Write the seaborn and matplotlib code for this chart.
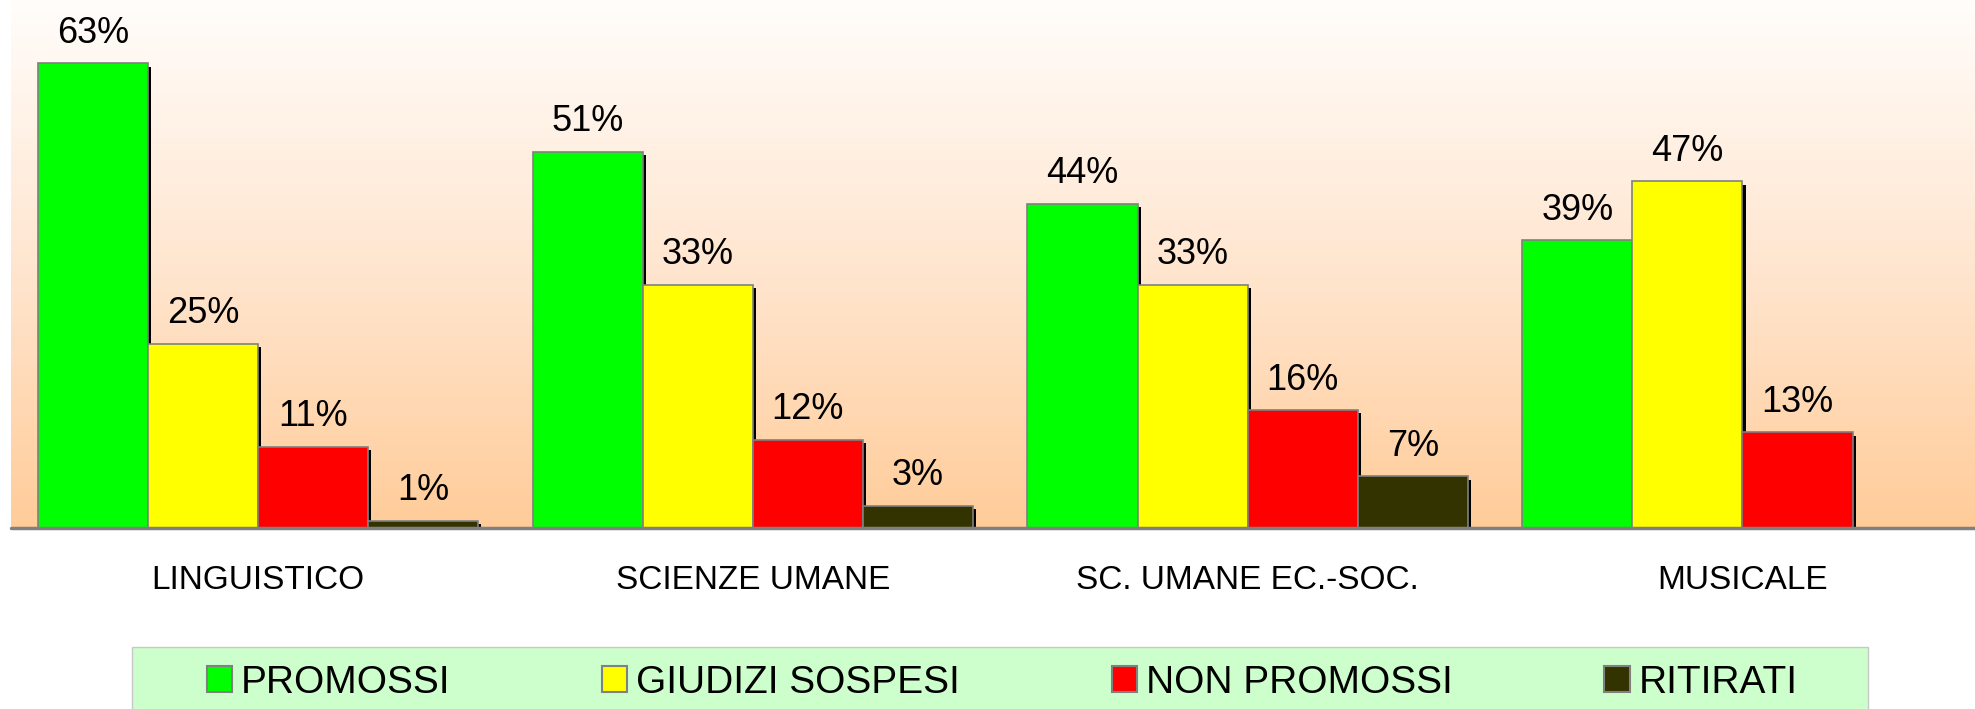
import numpy as np
import pandas as pd
import matplotlib
matplotlib.use("Agg")
import matplotlib.pyplot as plt
import matplotlib.patheffects as pe
from matplotlib.colors import LinearSegmentedColormap
from matplotlib.patches import Patch, Rectangle
import seaborn as sns

# dati
indirizzi = ['LINGUISTICO', 'SCIENZE UMANE', 'SC. UMANE EC.-SOC.', 'MUSICALE']
esiti = ['PROMOSSI', 'GIUDIZI SOSPESI', 'NON PROMOSSI', 'RITIRATI']
promossi = [63, 51, 44, 39]
giudizi_sospesi = [25, 33, 33, 47]
non_promossi = [11, 12, 16, 13]
ritirati = [1, 3, 7, np.nan]
colori = ['#00FF00', '#FFFF00', '#FF0000', '#333300']


def grafico_esiti(save_path='out.png'):
    sns.set_style('white')
    plt.rcParams['font.family'] = ['Liberation Sans', 'DejaVu Sans']
    plt.rcParams['text.color'] = 'black'
    plt.rcParams['xtick.color'] = 'black'

    df = pd.DataFrame({'indirizzo': indirizzi * 4,
                       'esito': np.repeat(esiti, len(indirizzi)),
                       'valore': promossi + giudizi_sospesi + non_promossi + ritirati})

    fig = plt.figure(figsize=(19.75, 7.09), dpi=100)
    ax = fig.add_axes([0.0054, 0.2553, 0.9946, 0.7447])

    ombra = [pe.withSimplePatchShadow(offset=(2.2, -2.5), shadow_rgbFace='black', alpha=1)]
    sns.barplot(data=df, x='indirizzo', y='valore', hue='esito', order=indirizzi,
                hue_order=esiti, palette=colori, saturation=1, width=0.89, errorbar=None,
                edgecolor='#808080', linewidth=1.2, legend=False, ax=ax)
    for cont in ax.containers:
        for bar in cont:
            bar.set_path_effects(ombra)
        ax.bar_label(cont, fmt='%d%%', padding=9, fontsize=26, color='black')

    xlim = (-0.5, 3.47)
    ylim = (0, 71.6)
    # sfondo sfumato
    cmap = LinearSegmentedColormap.from_list('sfondo', ['#FFCC99', '#FFE6D0', '#FFFDFB'])
    grad = np.linspace(0, 1, 256).reshape(-1, 1)
    ax.imshow(grad, extent=[xlim[0], xlim[1], ylim[0], ylim[1]], origin='lower',
              aspect='auto', cmap=cmap, zorder=0)
    ax.set_xlim(*xlim)
    ax.set_ylim(*ylim)
    ax.axhline(0, color='#808080', lw=2.5, clip_on=False, zorder=5)

    for s in ax.spines.values():
        s.set_visible(False)
    ax.set_yticks([])
    ax.set_xlabel('')
    ax.set_ylabel('')
    ax.tick_params(axis='x', length=0, pad=27, labelsize=24, labelcolor='black')

    # legenda
    fig.add_artist(Rectangle((0.0668, -0.01), 0.879, 0.0974, transform=fig.transFigure,
                             facecolor='#CCFFCC', edgecolor='#C8C8C8', lw=1))
    handles = [Patch(facecolor=c, edgecolor='#808080', lw=1.5) for c in colori]
    fig.legend(handles, esiti, loc='center', bbox_to_anchor=(0.5074, 0.0367), ncol=4,
               frameon=False, fontsize=28, handlelength=0.65, handleheight=0.65,
               handletextpad=0.23, columnspacing=3.9, labelcolor='black')

    fig.savefig(save_path, dpi=100)
    plt.close(fig)


if __name__ == "__main__":
    grafico_esiti('out.png')
